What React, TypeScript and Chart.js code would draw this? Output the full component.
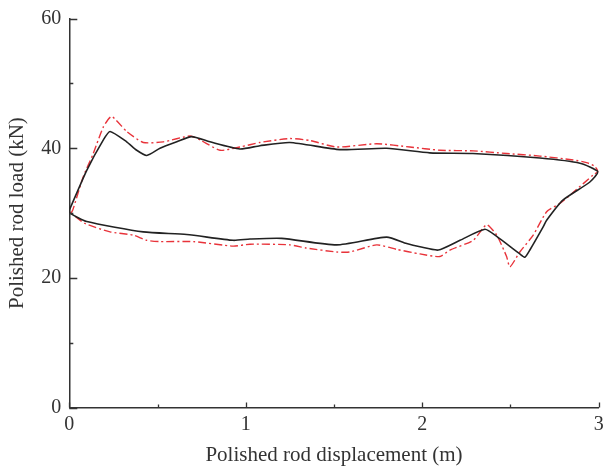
import React, { useEffect, useRef } from "react";
import { Chart, registerables } from "chart.js";

Chart.register(...registerables);

const measuredX = [0, 0.004, 0.099, 0.193, 0.231, 0.325, 0.382, 0.439, 0.514, 0.609, 0.693, 0.797, 0.967, 1.08, 1.25, 1.533, 1.798, 2.043, 2.287, 2.667, 2.894, 2.995, 2.95, 2.797, 2.705, 2.686, 2.61, 2.582, 2.553, 2.422, 2.355, 2.214, 2.091, 1.987, 1.912, 1.798, 1.515, 1.203, 1.024, 0.929, 0.665, 0.419, 0.099, 0.004, 0];
const measuredY = [30.5, 30.7, 36.6, 41.3, 42.6, 41.0, 39.7, 38.9, 40.0, 41.0, 41.8, 41.0, 39.9, 40.4, 40.9, 39.8, 40.0, 39.3, 39.2, 38.5, 37.7, 36.4, 34.8, 32.0, 28.9, 27.9, 24.3, 23.2, 23.7, 26.4, 27.5, 25.8, 24.3, 24.8, 25.3, 26.3, 25.1, 26.1, 26.0, 25.8, 26.7, 27.1, 28.7, 30.0, 30.5];

const simulatedX = [0.01, 0.02, 0.079, 0.136, 0.193, 0.24, 0.325, 0.419, 0.533, 0.684, 0.741, 0.854, 0.967, 1.08, 1.25, 1.364, 1.515, 1.742, 1.93, 2.1, 2.289, 2.478, 2.667, 2.856, 2.931, 2.978, 2.995, 2.969, 2.856, 2.78, 2.705, 2.629, 2.553, 2.497, 2.478, 2.422, 2.365, 2.289, 2.157, 2.1, 1.987, 1.855, 1.742, 1.59, 1.515, 1.345, 1.25, 1.024, 0.929, 0.703, 0.514, 0.439, 0.363, 0.231, 0.089, 0.01];
const simulatedY = [30.0, 30.5, 35.6, 39.2, 43.3, 44.9, 42.6, 40.9, 41.0, 41.9, 41.3, 39.7, 40.2, 40.9, 41.5, 41.2, 40.2, 40.7, 40.2, 39.7, 39.6, 39.2, 38.8, 38.2, 37.8, 37.2, 36.4, 35.9, 33.2, 31.5, 30.2, 26.6, 24.0, 21.7, 23.3, 26.6, 28.2, 25.8, 24.3, 23.3, 23.7, 24.4, 25.1, 24.0, 24.0, 24.6, 25.1, 25.2, 24.9, 25.6, 25.6, 25.8, 26.6, 27.1, 28.4, 30.0];

const xTicks = [0, 1, 2, 3];
const yTicks = [0, 20, 40, 60];
const xMinorTicks = [0.5, 1.5, 2.5];
const yMinorTicks = [10, 30, 50];

const FONT = "'Liberation Serif', 'DejaVu Serif', serif";

const toPoints = (xs: number[], ys: number[]) => xs.map((x, i) => ({ x, y: ys[i] }));

const inwardTicks = {
  id: "inwardTicks",
  afterDraw(chart: any) {
    const ctx = chart.ctx;
    const xs = chart.scales.x;
    const ys = chart.scales.y;
    const left = chart.chartArea.left;
    const bottom = chart.chartArea.bottom;
    ctx.save();
    ctx.strokeStyle = "#333";
    ctx.lineWidth = 1.3;
    ctx.beginPath();
    xTicks.forEach((v) => {
      const p = Math.round(xs.getPixelForValue(v)) + 0.5;
      ctx.moveTo(p, bottom);
      ctx.lineTo(p, bottom - 5);
    });
    xMinorTicks.forEach((v) => {
      const p = Math.round(xs.getPixelForValue(v)) + 0.5;
      ctx.moveTo(p, bottom);
      ctx.lineTo(p, bottom - 3);
    });
    yTicks.forEach((v) => {
      const p = Math.round(ys.getPixelForValue(v)) + 0.5;
      ctx.moveTo(left, p);
      ctx.lineTo(left + 8, p);
    });
    yMinorTicks.forEach((v) => {
      const p = Math.round(ys.getPixelForValue(v)) + 0.5;
      ctx.moveTo(left, p);
      ctx.lineTo(left + 4, p);
    });
    ctx.stroke();
    ctx.restore();
  },
};

export default function App() {
  const ref = useRef<HTMLCanvasElement | null>(null);
  useEffect(() => {
    document.body.style.margin = "0";
    const canvas = ref.current;
    if (!canvas) return;
    const chart = new Chart(canvas, {
      type: "scatter",
      data: {
        datasets: [
          {
            label: "Measured",
            data: toPoints(measuredX, measuredY),
            showLine: true,
            borderColor: "#222222",
            borderWidth: 1.6,
            pointRadius: 0,
            tension: 0.2,
          },
          {
            label: "Simulated",
            data: toPoints(simulatedX, simulatedY),
            showLine: true,
            borderColor: "#e8333a",
            borderWidth: 1.4,
            borderDash: [8, 3, 2, 3],
            pointRadius: 0,
            tension: 0.2,
          },
        ],
      },
      options: {
        responsive: false,
        animation: false,
        layout: { padding: { left: 0, right: 5.3, top: 18.7, bottom: 0 } },
        plugins: { legend: { display: false }, tooltip: { enabled: false } },
        scales: {
          x: {
            type: "linear",
            min: 0,
            max: 3,
            afterBuildTicks: (s: any) => {
              s.ticks = xTicks.map((v) => ({ value: v }));
            },
            afterFit: (s: any) => {
              s.height = 61.5;
              s.paddingLeft = 0;
              s.paddingRight = 0;
            },
            grid: { display: false, drawTicks: false },
            border: { display: true, color: "#333", width: 1.5 },
            ticks: { color: "#333", font: { family: FONT, size: 20 }, padding: 5 },
            title: {
              display: true,
              text: "Polished rod displacement (m)",
              color: "#333",
              font: { family: FONT, size: 21 },
              padding: { top: 0, bottom: 1 },
            },
          },
          y: {
            type: "linear",
            min: 0,
            max: 60,
            afterBuildTicks: (s: any) => {
              s.ticks = yTicks.map((v) => ({ value: v }));
            },
            afterFit: (s: any) => {
              s.width = 69.3;
              s.paddingTop = 0;
              s.paddingBottom = 0;
            },
            grid: { display: false, drawTicks: false },
            border: { display: true, color: "#333", width: 1.5 },
            ticks: { color: "#333", font: { family: FONT, size: 20 }, padding: 8 },
            title: {
              display: true,
              text: "Polished rod load (kN)",
              color: "#333",
              font: { family: FONT, size: 21 },
              padding: { top: 5, bottom: 0 },
            },
          },
        },
      },
      plugins: [inwardTicks],
    } as any);
    return () => chart.destroy();
  }, []);
  return (
    <div style={{ width: 604, height: 469 }}>
      <canvas ref={ref} width={604} height={469} style={{ width: 604, height: 469 }} />
    </div>
  );
}
